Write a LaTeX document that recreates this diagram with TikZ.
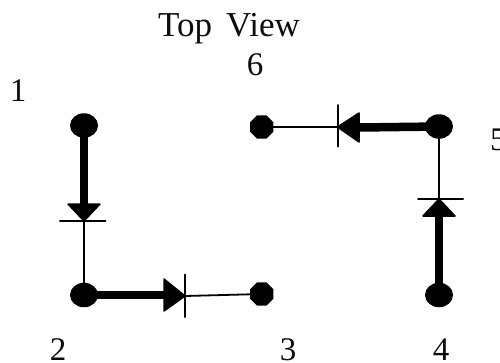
\documentclass[tikz,border=0pt]{standalone}
\usepackage{fontspec}
\setmainfont{Liberation Serif}
\newfontfamily\titlefont[WordSpace=1.6]{Liberation Serif}
\usetikzlibrary{shapes.geometric}
\tikzset{
  x=1pt,y=-1pt,
  padw/.style={ellipse,fill=black,draw=none,inner sep=0pt,minimum width=28pt,minimum height=24.5pt},
  padn/.style={regular polygon,regular polygon sides=8,fill=black,draw=none,inner sep=0pt,minimum size=25pt},
  lbl/.style={inner sep=0pt,font=\fontsize{33}{33}\selectfont,text=black!95},
  thin wire/.style={line width=1.8pt},
  thick wire/.style={line width=8.5pt},
  bar/.style={line width=2pt,line cap=round},
  tri/.style={fill=black,draw=black,line width=1.5pt,line join=round}
}
\begin{document}
\begin{tikzpicture}
\useasboundingbox (0,0) rectangle (500,362);
\node[padw] (p1) at (84,125.5) {};
\node[padw] (p2) at (84,295) {};
\node[padn] (p3) at (261.7,294) {};
\node[padw] (p4) at (439,295) {};
\node[padw] (p5) at (439,126.5) {};
\node[padn] (p6) at (261.7,127) {};
% diode 1-2
\coordinate (c1) at (84,221);
\coordinate (b1) at (84,204);
\draw[thick wire] (p1.center) -- (b1);
\draw[thin wire] (c1) -- (p2.center);
\draw[tri] (c1) -- (68,204) -- (100,204) -- cycle;
\draw[bar] (60,221) -- (105.5,221);
% diode 2-3
\coordinate (c2) at (185,296);
\coordinate (b2) at (164,295);
\draw[thick wire] (p2.center) -- (b2);
\draw[thin wire] (c2) -- (p3.center);
\draw[tri] (c2) -- (164,279) -- (164,311) -- cycle;
\draw[bar] (185.3,274.5) -- (185.3,317);
% diode 5-6
\coordinate (c3) at (337.5,127);
\coordinate (b3) at (359,127.5);
\draw[thick wire] (p5.center) -- (b3);
\draw[thin wire] (c3) -- (p6.center);
\draw[tri] (c3) -- (359,113) -- (359,142) -- cycle;
\draw[bar] (337.5,105) -- (337.5,146.5);
% diode 4-5
\coordinate (c4) at (439,199);
\coordinate (b4) at (439,216);
\draw[thick wire,line width=7.5pt] (p4.center) -- (b4);
\draw[thin wire] (c4) -- (p5.center);
\draw[tri] (c4) -- (423,216) -- (455,216) -- cycle;
\draw[bar] (418,199) -- (463,199);
% labels
\node[lbl,font=\titlefont\fontsize{35}{35}\selectfont] (title) at (229,29) {Top View};
\node[lbl] (l6) at (255,64.5) {6};
\node[lbl] (l1) at (18,91) {1};
\node[lbl,anchor=west] (l5) at (490,140) {5};
\node[lbl] (l2) at (58,350) {2};
\node[lbl] (l3) at (288,350) {3};
\node[lbl] (l4) at (441,350) {4};
\end{tikzpicture}
\end{document}
